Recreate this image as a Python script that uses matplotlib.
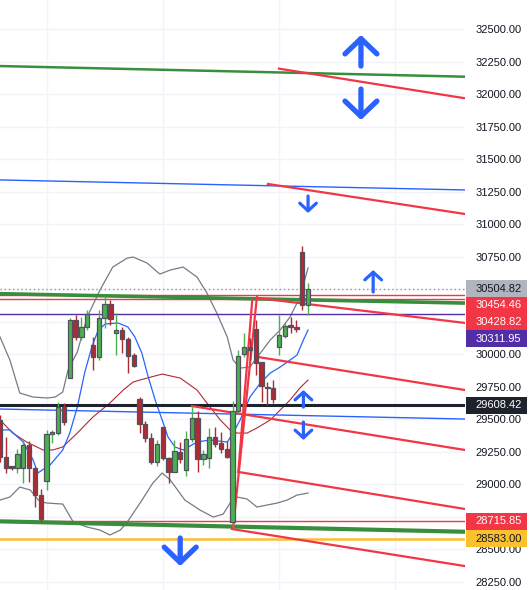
import numpy as np
import matplotlib.pyplot as plt
from matplotlib.patches import Rectangle, FancyArrowPatch
from matplotlib.transforms import blended_transform_factory

plt.rcParams['font.family'] = ['Liberation Sans', 'DejaVu Sans']

# OHLC candles, one per bar (bar index = position)
opens = [29494, 29210, 29130, 29125, 29125, 29302, 29125, 28917, 29025, 29387,
         29394, 29594, 29817, 30264, 30133, 30210, 30071, 29979, 30279, 30387,
         30164, 30187, 30117, 29994, 29656, 29464, 29356, 29171, 29441, 29202,
         29094, 29248, 29110, 29348, 29510, 29194, 29202, 29364, 29318, 29271,
         28710, 29564, 30002, 30056, 30194, 29940, 29748, 29740, 30056, 30141,
         30225, 30210, 30787, 30379]
highs = [29533, 29364, 29140, 29271, 29341, 29333, 29133, 28963, 29417, 29417,
         29633, 29625, 30279, 30302, 30287, 30340, 30133, 30340, 30448, 30417,
         30317, 30210, 30133, 30010, 29671, 29487, 29394, 29341, 29441, 29210,
         29341, 29325, 29410, 29602, 29564, 29264, 29433, 29441, 29402, 29333,
         29641, 30033, 30164, 30125, 30264, 29940, 29787, 29802, 30302, 30240,
         30287, 30264, 30833, 30548]
lows = [29171, 29087, 29110, 29087, 29010, 29017, 28825, 28710, 28956, 29317,
        29379, 29456, 29817, 30110, 30110, 30187, 29879, 29956, 30202, 30225,
        29994, 30010, 29856, 29902, 29394, 29325, 29156, 29140, 29187, 29010,
        29094, 29164, 29064, 29325, 29094, 29148, 29125, 29287, 29241, 29202,
        28664, 29548, 29979, 29956, 29840, 29633, 29610, 29625, 29994, 30125,
        30164, 30171, 30340, 30302]
closes = [29210, 29125, 29125, 29233, 29302, 29125, 28917, 28733, 29387, 29402,
          29594, 29479, 30264, 30133, 30210, 30310, 29979, 30279, 30387, 30271,
          30187, 30117, 29987, 29910, 29464, 29356, 29171, 29310, 29202, 29094,
          29256, 29194, 29348, 29510, 29194, 29233, 29364, 29310, 29271, 29210,
          29564, 29987, 30056, 30033, 29933, 29756, 29740, 29656, 30148, 30217,
          30210, 30194, 30379, 30505]

# Bollinger bands and fast EMA as (bar, price)
bb_up_x = [0, 1.7, 3.4, 5.7, 8.1, 9.5, 10.8, 11.7, 13.3, 15.0, 17.2, 19.4, 21.9, 22.9,
           25.3, 27.5, 29.3, 31.5, 33.9, 35.6, 37.3, 39.1, 40.1, 41.3, 43.0, 44.8,
           46.5, 48.2, 49.9, 51.6, 53.0]
bb_up = [30133, 29956, 29702, 29671, 29664, 29671, 29710, 29879, 30018, 30287, 30494,
         30671, 30740, 30748, 30702, 30617, 30648, 30671, 30594, 30471, 30317, 30133,
         29956, 29894, 29902, 30010, 30110, 30187, 30287, 30440, 30664]
bb_lo_x = [0, 1.7, 3.4, 5.2, 6.9, 8.1, 10.8, 12.6, 15.0, 17.2, 18.9, 20.7, 21.9, 24.1,
           26.3, 27.9, 29.3, 31.8, 34.4, 36.7, 38.4, 39.6, 40.8, 42.5, 44.2, 46.0,
           47.7, 49.4, 51.1, 53.0]
bb_lo = [28879, 28902, 28979, 28956, 28864, 28856, 28848, 28710, 28671, 28648, 28610,
         28648, 28710, 28856, 29010, 29087, 29033, 28879, 28802, 28748, 28771, 28856,
         28902, 28887, 28825, 28841, 28856, 28879, 28917, 28933]
bb_mid_x = [0, 2.2, 4.6, 7.4, 9.1, 10.8, 13.3, 16.0, 18.9, 21.2, 22.9, 25.3, 27.9, 31.0,
            33.9, 35.6, 37.9, 39.6, 40.8, 42.5, 44.2, 46.5, 48.2, 49.9, 51.6, 53.0]
bb_mid = [29495, 29394, 29325, 29264, 29264, 29287, 29394, 29518, 29625, 29725, 29787,
          29817, 29848, 29817, 29725, 29625, 29495, 29417, 29394, 29394, 29433, 29495,
          29571, 29648, 29741, 29802]
ema_x = [0, 1.7, 4.0, 5.7, 6.5, 8.6, 10.8, 12.0, 13.3, 14.6, 15.8, 16.9, 18.1, 20.3,
         22.0, 23.2, 24.4, 25.5, 26.7, 27.9, 28.9, 30.1, 31.5, 33.9, 36.1, 39.1, 40.1,
         41.3, 43.0, 44.8, 46.5, 48.2, 49.9, 51.1, 52.2, 53.0]
ema = [29418, 29418, 29325, 29187, 29087, 29148, 29264, 29394, 29594, 29864, 30056,
       30187, 30233, 30241, 30210, 30133, 30010, 29825, 29648, 29494, 29364, 29287,
       29264, 29325, 29341, 29325, 29394, 29494, 29671, 29779, 29856, 29902, 29956,
       29994, 30110, 30187]

# drawn trend lines: (bar0, price0, bar1, price1)
green_lines = [(0, 32217, 80, 32135), (0, 30466, 80, 30394), (0, 28715, 80, 28635)]
blue_lines = [(0, 31341, 80, 31264), (0, 29579, 80, 29502)]
fork_lines = [(48.0, 32197, 80, 31969), (46.1, 31310, 80, 31079), (44.2, 30433, 80, 30241),
              (44.4, 29979, 80, 29725), (33.0, 29602, 80, 29264), (41.0, 29095, 80, 28810),
              (39.9, 28656, 80, 28371), (40.1, 28664, 44.2, 30441), (41.0, 29095, 43.4, 30420)]

# horizontal levels with price tags
level_prices = [30504.82, 30454.46, 30428.82, 30311.95, 29608.42, 28715.85, 28583.00]
level_colors = ['#9598a1', '#f23645', '#f23645', '#512da8', '#1e222d', '#f23645', '#fbc02d']
level_widths = [1, 1, 1, 1, 2.2, 1, 1.8]
tag_text_colors = ['#131722', 'white', 'white', 'white', 'white', 'white', '#131722']
tag_bg = ['#b2b5be', '#f23645', '#f23645', '#512da8', '#1e222d', '#f23645', '#fbc02d']

# blue arrows: (bar, tail price, tip price)
big_arrows = [(62.1, 32217, 32456), (62.1, 32040, 31802), (31.0, 28587, 28371)]
small_arrows = [(53.0, 31217, 31087), (64.2, 30479, 30648), (52.2, 29594, 29725),
                (52.2, 29479, 29341)]

fig = plt.figure(figsize=(5.3, 5.9), dpi=100)
ax = fig.add_axes([0, 0, 465 / 530, 1])
ymin, ymax = 28187, 32725

# grid
yticks = np.arange(28250, 32751, 250)
for t in yticks:
    ax.axhline(t, color='#f0f3fa', lw=1, zorder=0)
for gx in [8, 28, 48, 68]:
    ax.axvline(gx, color='#f0f3fa', lw=1, zorder=0)

# indicators
ax.plot(bb_up_x, bb_up, color='#787b86', lw=0.9, zorder=2)
ax.plot(bb_lo_x, bb_lo, color='#787b86', lw=0.9, zorder=2)
ax.plot(bb_mid_x, bb_mid, color='#b22833', lw=0.8, zorder=2)
ax.plot(ema_x, ema, color='#2962ff', lw=0.9, zorder=2)

# levels
for p, c, w in zip(level_prices, level_colors, level_widths):
    ls = (0, (1, 2)) if c == '#9598a1' else '-'
    ax.axhline(p, color=c, lw=w, ls=ls, zorder=3)

for x0, p0, x1, p1 in blue_lines:
    ax.plot([x0, x1], [p0, p1], color='#2962ff', lw=1, zorder=3)
for (x0, p0, x1, p1), w in zip(green_lines, [1.8, 2.6, 3.0]):
    ax.plot([x0, x1], [p0, p1], color='#388e3c', lw=w, zorder=3)
for x0, p0, x1, p1 in fork_lines:
    ax.plot([x0, x1], [p0, p1], color='#f23645', lw=1.6, zorder=3)

# candles
idx = np.arange(len(opens))
o = np.array(opens); c = np.array(closes)
up = c >= o
col = np.where(up, '#4caf50', '#b22833')
ax.vlines(idx, lows, highs, colors=col, lw=1, zorder=4)
body = np.maximum(np.abs(c - o), 12)
ax.bar(idx, body, bottom=np.minimum(o, c), width=0.75, color=col,
       edgecolor='#50535e', linewidth=0.9, zorder=5)

# arrows
for x, a, b in big_arrows:
    ax.add_patch(FancyArrowPatch((x, a), (x, b), arrowstyle='->,head_length=1.1,head_width=1.15',
                                 mutation_scale=10, lw=3.8, color='#2962ff', shrinkA=0, shrinkB=0,
                                 capstyle='round', joinstyle='round', zorder=8))
for x, a, b in small_arrows:
    ax.add_patch(FancyArrowPatch((x, a), (x, b), arrowstyle='->,head_length=0.55,head_width=0.6',
                                 mutation_scale=10, lw=2.3, color='#2962ff', shrinkA=0, shrinkB=0,
                                 capstyle='round', joinstyle='round', zorder=8))

# price tags, stacked so they don't overlap
h = 128
order = sorted(range(len(level_prices)), key=lambda k: -level_prices[k])
tag_y = {}
prev = None
for k in order:
    y = level_prices[k] if prev is None else min(level_prices[k], prev - h)
    tag_y[k] = y
    prev = y

# axis labels, hiding the ones sitting under a tag
ax.set_xlim(0, 80)
ax.set_ylim(ymin, ymax)
ax.yaxis.tick_right()
shown = [t for t in yticks if t <= ymax and min(abs(t - y) for y in tag_y.values()) > 0.6 * h]
ax.set_yticks(shown)
ax.set_yticklabels([f'{t:.2f}' for t in shown])
ax.tick_params(axis='y', length=0, pad=7.5, labelsize=8, labelcolor='#131722')
ax.set_xticks([])
for s in ax.spines.values():
    s.set_visible(False)
ax.text(1 + 10.4 / 465, 32750, '32750.00',
        transform=blended_transform_factory(ax.transAxes, ax.transData),
        fontsize=8, color='#131722', va='center', ha='left', clip_on=False)

blend = blended_transform_factory(fig.transFigure, ax.transData)
for k in order:
    y = tag_y[k]
    ax.add_patch(Rectangle((466 / 530, y - h / 2), 61 / 530, h, transform=blend,
                           facecolor=tag_bg[k], edgecolor='none', clip_on=False, zorder=10))
    ax.text(475.5 / 530, y, f'{level_prices[k]:.2f}', transform=blend, fontsize=8,
            color=tag_text_colors[k], va='center', ha='left', clip_on=False, zorder=11)

ax.set_xlim(0, 80)
ax.set_ylim(ymin, ymax)
fig.savefig('out.png', dpi=100, facecolor='white')
